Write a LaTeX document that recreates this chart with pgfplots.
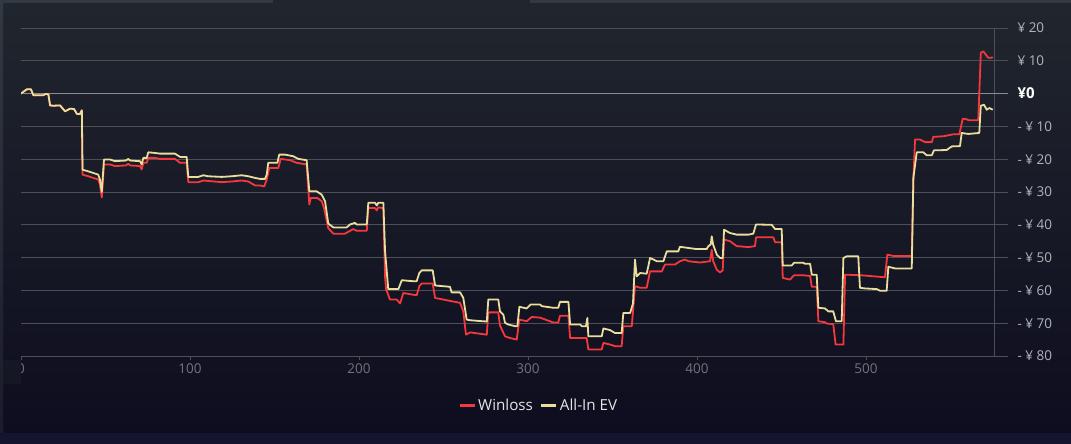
\documentclass[border=0pt]{standalone}
\usepackage{pgfplots}
\pgfplotsset{compat=1.18}
\usepackage{fontspec}
\setmainfont{Open Sans}
\definecolor{bgtop}{HTML}{21262E}
\definecolor{bgbot}{HTML}{0E0D1F}
\definecolor{botstrip}{HTML}{15142F}
\definecolor{barcol}{HTML}{313944}
\definecolor{stripbot}{HTML}{1B1B2E}
\definecolor{gridcol}{HTML}{4B4F57}
\definecolor{zerocol}{HTML}{8A8D92}
\definecolor{xlab}{HTML}{70747B}
\definecolor{ylab}{HTML}{B0B4BA}
\definecolor{legtext}{HTML}{E6E6E6}
\definecolor{wl}{HTML}{F5383D}
\definecolor{ev}{HTML}{E9DE9C}
\begin{document}
\begin{tikzpicture}
\shade[top color=bgtop, bottom color=bgbot] (0bp,11bp) rectangle (1071bp,444bp);
\fill[botstrip] (0bp,0bp) rectangle (1071bp,11bp);
\shade[top color=barcol, bottom color=stripbot] (0bp,11bp) rectangle (3bp,441bp);
\fill[barcol] (0bp,441bp) rectangle (273bp,444bp);
\fill[barcol] (530bp,441bp) rectangle (1071bp,444bp);
\begin{axis}[
  at={(21bp,88bp)}, anchor=south west,
  width=987bp, height=328bp, scale only axis,
  xmin=0, xmax=584, ymin=-80, ymax=20,
  axis x line*=bottom, axis y line*=right,
  axis line style={-},
  x axis line style={gridcol, line width=0.8bp},
  y axis line style={draw=none},
  xtick={0,100,200,300,400,500},
  xticklabels={0,100,200,300,400,500},
  xticklabel style={text=xlab, font=\fontsize{13.5bp}{15bp}\selectfont},
  xtick style={gridcol, line width=0.8bp},
  tick align=outside,
  major tick length=4bp,
  ytick={-80,-70,-60,-50,-40,-30,-20,-10,10,20},
  yticklabels={- ¥ 80,- ¥ 70,- ¥ 60,- ¥ 50,- ¥ 40,- ¥ 30,- ¥ 20,- ¥ 10,¥ 10,¥ 20},
  yticklabel style={text=ylab, anchor=west, xshift=2bp, font=\fontsize{13.5bp}{15bp}\selectfont},
  ytick style={draw=none},
  ymajorgrids,
  grid style={gridcol, line width=0.8bp},
  extra y ticks={0},
  extra y tick labels={\textbf{¥0}},
  extra y tick style={yticklabel style={text=white, font=\fontsize{15bp}{17bp}\selectfont}, major grid style={zerocol, line width=1.3bp}},
  extra x ticks={575.7},
  extra x tick labels={},
  extra x tick style={grid=major, major tick length=0pt, major grid style={gridcol, line width=0.8bp}},
  legend style={at={(0.5245,-0.152)}, anchor=center, draw=none, fill=none,
    text=legtext, font=\fontsize{15.2bp}{17bp}\selectfont,
    /tikz/every even column/.append style={column sep=5bp}},
  legend columns=2,
  legend image code/.code={\draw[#1, line width=3bp] (0bp,0bp) -- (15bp,0bp);},
]
\addplot[wl, line width=1.8bp, line join=round] coordinates {
(0,0) (3.4,1.3) (5.9,1.3) (7.3,-0.5) (13.1,-0.5) (14.6,-0.1) (16.2,-0.2) (17.2,-3.6) (19.2,-3.7) (23.1,-3.6) (26.1,-5.4) (29,-4.6) (31.4,-4.7) (33.1,-6.2) (34.9,-6.2) (36.0,-5.1)
(36.4,-24.7) (39.8,-25.2) (42.8,-25.7) (45.7,-26.2) (46.7,-27.7) (47.8,-31.7) (49.1,-21.6) (52.7,-21.6) (55.6,-22.1) (62.1,-21.9) (63.5,-21.4) (64.5,-21.9) (70.4,-22.1) (71.4,-23.1) (72.4,-21.1) (74.4,-21.1) (75.3,-19.6) (79.3,-19.6) (82.2,-19.9) (91.1,-19.9) (94.1,-21.1) (98,-21.1)
(99,-27.0) (104.9,-27.0) (107.9,-26.5) (118.8,-27.0) (124.7,-26.8) (130.6,-26.5) (134.5,-26.8) (138.5,-28.0) (141.4,-28.0) (143.9,-28.3) (145.4,-26.2) (146.9,-22.7) (152.2,-22.7) (153.7,-19.9) (159.2,-20.3) (163.1,-21.1) (169,-21.6)
(170.6,-33.8) (171.4,-31.8) (175.3,-31.8) (177.9,-32.8) (179.3,-34.9) (181.8,-41.0) (184.8,-42.7) (191.7,-42.7) (196.6,-41.3) (198.6,-41.8) (204.6,-41.8) (205.5,-34.9) (209.5,-34.9) (210.5,-35.6) (211.4,-34.7) (214.4,-34.9)
(215.4,-55.7) (216,-59.6) (218.3,-62.8) (222.3,-62.8) (224.3,-64.0) (226.2,-60.8) (234.1,-61.5) (235.7,-58.7) (237.1,-57.9) (243.6,-57.9) (245,-62.3) (251.9,-63.0) (259.8,-63.8) (261.7,-66.4) (263.3,-73.5) (265.7,-72.8) (275.6,-73.5) (276.5,-66.7) (282.4,-66.7)
(283.4,-70.7) (286.4,-74.0) (289.3,-74.5) (293.3,-75.0) (294.9,-68.9) (299.2,-69.4) (302.2,-68.1) (307.1,-68.3) (315,-69.8) (317.9,-69.8) (318.9,-67.7) (323.9,-67.7) (324.9,-74.5) (334.7,-74.5) (335.7,-78.0) (343.6,-78.0) (344.6,-76.0) (348.5,-76.5) (351.5,-77.0) (355.4,-77.0)
(356.4,-70.9) (361.4,-70.9) (363.3,-58.7) (366.3,-59.2) (370.2,-59.2) (371.2,-56.7) (372.2,-54.2) (379.1,-54.2) (381.1,-52.1) (387,-52.1) (389.9,-51.1) (392.9,-50.6) (394.8,-51.1) (401.8,-51.5) (407.7,-51.1) (408.7,-47.6) (409.5,-51) (411.7,-53.7) (413.6,-54.5) (415.2,-53.9)
(416,-44.5) (419.5,-45.0) (423.5,-46.5) (430.4,-46.8) (434.3,-46.5) (434.9,-43.8) (445.1,-43.8) (446.2,-45.3) (450.1,-45.3) (450.7,-56.2) (455,-56.7) (457.4,-55.4) (462.9,-55.4) (466.9,-55.6) (467.9,-58.9) (470.8,-58.9) (471.8,-69.4) (475.7,-69.7) (476.7,-70.1) (480.6,-70.3) (482,-76.5) (486.6,-76.5)
(487.6,-55.2) (497.5,-55.4) (511.2,-56.0) (512.6,-49.1) (516.2,-49.5) (527.05,-49.5) (528,-26.2) (529,-14.0) (531.9,-14.0) (534.9,-14.8) (538.9,-14.8) (539.8,-13.2) (545.8,-13.0) (551.7,-12.4) (555.2,-12.4) (557.2,-7.7) (559.6,-7.8) (560.5,-8.1) (566.4,-8.1)
(567.9,12.4) (569.4,12.9) (571.4,11.5) (572.4,10.9) (575,11.0)
};
\addlegendentry{Winloss}
\addplot[ev, line width=1.8bp, line join=round] coordinates {
(0,0) (3.4,1.3) (5.9,1.3) (7.3,-0.5) (13.1,-0.5) (14.6,-0.1) (16.2,-0.2) (17.2,-3.6) (19.2,-3.7) (23.1,-3.6) (26.1,-5.4) (29,-4.6) (31.4,-4.7) (33.1,-6.2) (34.9,-6.2) (36.0,-5.1)
(36.4,-23.2) (39.8,-23.7) (42.8,-24.2) (45.7,-24.7) (46.7,-26.2) (47.8,-30) (49.1,-20.1) (52.7,-20.1) (55.6,-20.6) (62.1,-20.4) (63.5,-19.9) (64.5,-20.4) (70.4,-20.6) (71.4,-21.6) (72.4,-19.6) (74.4,-19.6) (75.3,-17.9) (79.3,-18.1) (82.2,-18.3) (91.1,-18.3) (94.1,-19.3) (98,-19.3)
(99,-25.4) (104.9,-25.4) (107.9,-24.9) (110.7,-25.2) (118.8,-25.4) (124.7,-25.2) (130.6,-24.9) (134.5,-25.2) (138.5,-25.7) (141.4,-26.0) (144.4,-26.0) (145.4,-24.7) (146.3,-21.1) (151.7,-21.1) (152.8,-18.6) (156.2,-18.6) (161.1,-19.1) (164.1,-19.9) (169,-20.3)
(170.6,-29.8) (175,-29.8) (177.9,-30.8) (179.9,-32.8) (181.8,-39.6) (184.8,-40.8) (192.7,-40.8) (194.7,-39.9) (197.6,-39.4) (198.6,-39.9) (204.6,-39.9) (205.5,-33.3) (209.5,-33.3) (210.5,-34.1) (211.4,-33.3) (214.4,-33.3)
(215.4,-48) (217.3,-59.6) (223.3,-59.6) (225.3,-56.9) (232.1,-57.2) (234.1,-57.2) (235.7,-54.7) (237.1,-53.9) (243.6,-53.9) (245,-58.5) (253.8,-58.9) (254.8,-60.6) (259.8,-60.6) (261.7,-62.3) (263.7,-68.9) (265.7,-69.1) (275.6,-69.5) (276.5,-62.8) (282.4,-62.8)
(283.4,-66.4) (285.4,-67.4) (286.4,-69.9) (288.3,-70.4) (292.3,-70.9) (293.7,-70.9) (294.9,-65.0) (299.2,-65.5) (301.6,-64.3) (307.1,-64.3) (308.1,-64.8) (315,-65.3) (317.9,-65.3) (318.9,-63.5) (323.9,-63.5) (324.9,-70.4) (330.8,-70.4) (331.8,-70.9) (334.3,-70.9) (335.1,-68.4) (335.7,-74.0) (343.6,-74.0) (344.6,-71.6) (348.5,-72.1) (351.5,-73.0) (355.4,-73.0)
(356.4,-66.9) (360.4,-66.9) (362.1,-64) (363.3,-50.6) (364.3,-55.7) (366.3,-54.7) (370.2,-54.9) (371.2,-52.6) (372.2,-50.1) (376.2,-51.1) (380.1,-51.1) (382.1,-48.1) (388.9,-48.1) (389.9,-46.7) (393.9,-47.0) (399.8,-47.4) (405.7,-47.4) (406.7,-46.5) (408.1,-46.0) (408.7,-43.5) (409.5,-46) (411.7,-49.1) (413.6,-50.1) (415.2,-50.1)
(416,-41.5) (419.5,-42.5) (423.5,-43.0) (430.4,-43.0) (433.3,-42.7) (434.9,-39.9) (444.2,-40.0) (446.2,-41.3) (450.1,-41.3) (450.7,-52.4) (456,-52.4) (457.4,-51.6) (462.9,-51.6) (463.9,-51.9) (466.9,-51.9) (467.9,-55.2) (470.8,-55.2) (471.8,-65.3) (475.7,-65.5) (477.7,-66.4) (480.6,-66.4) (482.2,-69.4) (485.6,-69.4)
(486.6,-50.1) (488.6,-49.6) (495.4,-49.6) (496.4,-59.2) (499.4,-59.4) (506.3,-59.6) (508.3,-60.1) (512.2,-60.1) (513.2,-52.8) (517.2,-53.3) (527.05,-53.3) (528,-25.7) (530,-17.9) (533.9,-17.9) (535.9,-18.8) (538.9,-18.8) (540.2,-17.3) (547.7,-17.2) (550.7,-16.1) (555.6,-16.0) (556.6,-12.0) (560.5,-12.3) (567,-12.0)
(567.9,-3.7) (569.8,-3.4) (571.4,-4.9) (573,-4.4) (575,-4.9)
};
\addlegendentry{All-In EV}
\end{axis}
\fill[bgbot!60!bgtop] (3bp,60bp) rectangle (20.5bp,84bp);
\pgfresetboundingbox
\path[use as bounding box] (0bp,0bp) rectangle (1071bp,444bp);
\end{tikzpicture}
\end{document}
